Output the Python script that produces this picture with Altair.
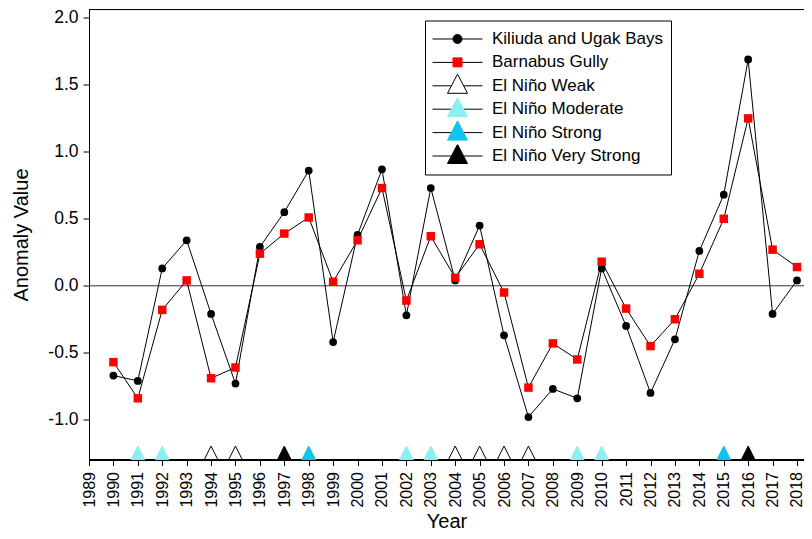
import altair as alt
import pandas as pd

FONT = "Liberation Sans, Arial, sans-serif"

# ---- data ----
YEARS = list(range(1990, 2019))
KILIUDA = [-0.67, -0.71, 0.13, 0.34, -0.21, -0.73, 0.29, 0.55, 0.86, -0.42,
           0.38, 0.87, -0.22, 0.73, 0.04, 0.45, -0.37, -0.98, -0.77, -0.84,
           0.13, -0.30, -0.80, -0.40, 0.26, 0.68, 1.69, -0.21, 0.04]
BARNABUS = [-0.57, -0.84, -0.18, 0.04, -0.69, -0.61, 0.24, 0.39, 0.51, 0.03,
            0.34, 0.73, -0.11, 0.37, 0.06, 0.31, -0.05, -0.76, -0.43, -0.55,
            0.18, -0.17, -0.45, -0.25, 0.09, 0.50, 1.25, 0.27, 0.14]

NINO_YEARS = [1991, 1992, 1994, 1995, 1997, 1998, 2002, 2003, 2004, 2005,
              2006, 2007, 2009, 2010, 2015, 2016]
NINO_STRENGTH = ["Moderate", "Moderate", "Weak", "Weak", "Very Strong", "Strong",
                 "Moderate", "Moderate", "Weak", "Weak", "Weak", "Weak",
                 "Moderate", "Moderate", "Strong", "Very Strong"]
NINO_LEVELS = ["Weak", "Moderate", "Strong", "Very Strong"]
NINO_FILL = ["#FFFFFF", "#8CF0F0", "#10C4F0", "#000000"]
NINO_STROKE = ["#000000", "#8CF0F0", "#10C4F0", "#000000"]
NINO_BASE = -1.247  # level at which the El Nino markers sit

LEGEND_LABELS = ["Kiliuda and Ugak Bays", "Barnabus Gully", "El Niño Weak",
                 "El Niño Moderate", "El Niño Strong", "El Niño Very Strong"]
LEGEND_FILL = ["#000000", "#FF0000", "#FFFFFF", "#8CF0F0", "#10C4F0", "#000000"]
LEGEND_STROKE = ["#000000", "#FF0000", "#000000", "#8CF0F0", "#10C4F0", "#000000"]

X_TICKS = list(range(1989, 2019))
Y_TICKS = [-1.0, -0.5, 0.0, 0.5, 1.0, 1.5, 2.0]
X_DOMAIN = [1989, 2018.287]
Y_DOMAIN = [-1.297, 2.063]

# ---- symbol shapes ----
TRI = "M0,-1L1,1L-1,1Z"
CIRC_L = "M-0.45,0A0.45 0.45 0 1 1 0.45,0A0.45 0.45 0 1 1 -0.45,0Z"
SQR_L = "M-0.45,-0.45L0.45,-0.45L0.45,0.45L-0.45,0.45Z"
TRI_L = "M0,-1.17L1,0.75L-1,0.75Z"


def seg(g):
    # line through the legend symbol, with a gap where the marker sits
    return f"M-2.5,0L-{g},0M{g},0L2.5,0"


LINE_PATHS = [seg(0.45), seg(0.45), seg(0.6), seg(0.6), seg(0.6), seg(0.6)]
MARKER_PATHS = [CIRC_L, SQR_L, TRI_L, TRI_L, TRI_L, TRI_L]

series_df = pd.DataFrame({
    "year": YEARS * 2,
    "value": KILIUDA + BARNABUS,
    "series": ["Kiliuda and Ugak Bays"] * len(YEARS) + ["Barnabus Gully"] * len(YEARS),
})
nino_df = pd.DataFrame({"year": NINO_YEARS,
                        "value": [NINO_BASE] * len(NINO_YEARS),
                        "strength": NINO_STRENGTH})
legend_df = pd.DataFrame({"year": [1900] * 6, "value": [0.0] * 6, "entry": LEGEND_LABELS})
zero_df = pd.DataFrame({"value": [0.0]})

xscale = alt.Scale(domain=X_DOMAIN, nice=False, zero=False)
yscale = alt.Scale(domain=Y_DOMAIN, nice=False, zero=False)

xaxis = alt.Axis(values=X_TICKS, format="d", labelAngle=270, labelAlign="right",
                 labelBaseline="middle", labelFontSize=16, labelPadding=6,
                 labelFlush=False, labelOverlap=False, tickSize=6, tickColor="black",
                 domainColor="black", domainWidth=2, labelColor="black",
                 titleFontSize=20, titleFontWeight="normal", titleColor="black",
                 titlePadding=4, grid=False)
yaxis = alt.Axis(values=Y_TICKS,
                 labelExpr="replace(format(datum.value, '.1f'), '\u2212', '-')",
                 labelFontSize=17.5, labelPadding=5, labelColor="black",
                 tickSize=6, tickColor="black", domainColor="black", domainWidth=1,
                 titleFontSize=20, titleFontWeight="normal", titleColor="black",
                 titlePadding=16, grid=False, labelFlush=False)

X = alt.X("year:Q", scale=xscale, axis=xaxis, title="Year")
Y = alt.Y("value:Q", scale=yscale, axis=yaxis, title="Anomaly Value")

zero_rule = alt.Chart(zero_df).mark_rule(color="#333333", strokeWidth=1).encode(y=Y)
top_rule = alt.Chart(zero_df).mark_rule(color="black", strokeWidth=1).encode(
    y=alt.value(0))

lines = alt.Chart(series_df).mark_line(color="black", strokeWidth=1).encode(
    x=X, y=Y, detail="series:N")
kil_pts = alt.Chart(series_df).transform_filter(
    alt.datum.series == "Kiliuda and Ugak Bays"
).mark_point(shape="circle", filled=True, color="black", size=60, opacity=1,
             strokeWidth=0).encode(x=X, y=Y)
bar_pts = alt.Chart(series_df).transform_filter(
    alt.datum.series == "Barnabus Gully"
).mark_point(shape="square", filled=True, color="#FF0000", size=72, opacity=1,
             strokeWidth=0).encode(x=X, y=Y)
nino_pts = alt.Chart(nino_df).mark_point(shape=TRI, filled=True, size=182,
                                         opacity=1, strokeWidth=1).encode(
    x=X, y=Y,
    fill=alt.Fill("strength:N", scale=alt.Scale(domain=NINO_LEVELS, range=NINO_FILL),
                  legend=None),
    stroke=alt.Stroke("strength:N",
                      scale=alt.Scale(domain=NINO_LEVELS, range=NINO_STROKE),
                      legend=None),
)

common = dict(orient="none", legendX=336, legendY=11, direction="vertical",
              title=None, labelFont=FONT, labelFontSize=17, labelColor="black",
              symbolSize=400, symbolOffset=15, labelOffset=24, padding=7,
              rowPadding=0.4, clipHeight=23, labelLimit=400, symbolStrokeWidth=1,
              labelExpr="datum.label + '      '")

leg_lines = alt.Chart(legend_df).mark_point(filled=False, color="black", strokeWidth=1,
                                            size=400, opacity=1, clip=True).encode(
    x=X, y=Y,
    shape=alt.Shape("entry:N", scale=alt.Scale(domain=LEGEND_LABELS, range=LINE_PATHS),
                    legend=alt.Legend(strokeColor="black", **common)),
)
leg_b = alt.Legend(labelOpacity=0, **common)
leg_marks = alt.Chart(legend_df).mark_point(filled=True, strokeWidth=1, size=400,
                                            opacity=1, clip=True).encode(
    x=X, y=Y,
    shape=alt.Shape("entry:N", scale=alt.Scale(domain=LEGEND_LABELS, range=MARKER_PATHS),
                    legend=leg_b),
    fill=alt.Fill("entry:N", scale=alt.Scale(domain=LEGEND_LABELS, range=LEGEND_FILL),
                  legend=leg_b),
    stroke=alt.Stroke("entry:N",
                      scale=alt.Scale(domain=LEGEND_LABELS, range=LEGEND_STROKE),
                      legend=leg_b),
)

chart = alt.layer(
    zero_rule, top_rule, lines, kil_pts, bar_pts, nino_pts, leg_lines, leg_marks
).resolve_scale(
    shape="independent", fill="independent", stroke="independent"
).properties(
    width=715, height=450,
    padding={"left": 81, "top": 1.5, "right": 0, "bottom": 71.5},
    autosize=alt.AutoSizeParams(type="none"),
).configure_view(stroke="transparent").configure_axis(
    labelFont=FONT, titleFont=FONT
).configure(background="white")

chart.save("out.html", embed_options={"renderer": "svg", "actions": False})
